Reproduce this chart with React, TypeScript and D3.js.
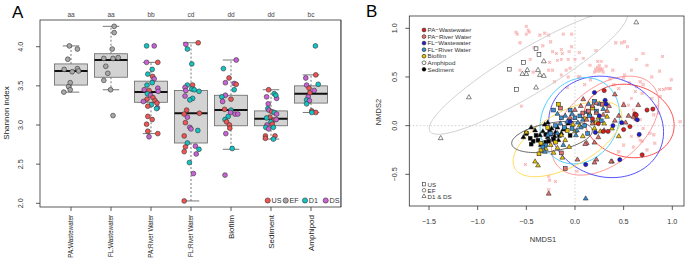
import React from 'react';
import * as d3 from 'd3';

const FONT = 'Liberation Sans, Arial, Helvetica, sans-serif';

// ---------- Panel A data ----------
const categories = ['PA:Wastewater', 'FL:Wastewater', 'PA:River Water', 'FL:River Water', 'Biofilm', 'Sediment', 'Amphipod'];
const smallLabel = [true, true, true, true, false, false, false];
const groupLetters = ['aa', 'aa', 'bb', 'cd', 'dd', 'dd', 'bc'];
const boxLow = [3.42, 3.45, 2.89, 2.03, 2.69, 2.82, 3.16];
const boxQ1 = [3.51, 3.61, 3.29, 2.77, 2.99, 2.99, 3.28];
const boxMed = [3.69, 3.83, 3.42, 3.15, 3.19, 3.08, 3.40];
const boxQ3 = [3.78, 3.91, 3.56, 3.44, 3.38, 3.18, 3.50];
const boxHigh = [4.01, 4.26, 3.80, 4.05, 3.83, 3.45, 3.64];
const yTicksA = [2.0, 2.5, 3.0, 3.5, 4.0];
const sites = ['US', 'EF', 'D1', 'DS'];
const siteColors: Record<string, string> = { US: '#f05454', EF: '#a8a8a8', D1: '#12c4c4', DS: '#c862d6' };

// [value, jitter (category units), site]
type P = [number, number, string];
const g1: P[] = [[4.01, -0.04, 'EF'], [3.97, 0.16, 'EF'], [3.84, -0.08, 'EF'], [3.71, -0.17, 'EF'], [3.68, 0.03, 'EF'], [3.72, 0.16, 'EF'], [3.69, 0.19, 'EF'], [3.54, -0.02, 'EF'], [3.49, -0.06, 'EF'], [3.45, -0.02, 'EF'], [3.42, -0.18, 'EF']];
const g2: P[] = [[4.26, 0.08, 'EF'], [4.18, 0.08, 'EF'], [3.97, 0.03, 'EF'], [3.86, 0.18, 'EF'], [3.85, 0.05, 'EF'], [3.85, -0.18, 'EF'], [3.75, -0.13, 'EF'], [3.66, -0.08, 'EF'], [3.57, -0.18, 'EF'], [3.45, -0.01, 'EF'], [3.12, 0.05, 'EF']];
const g3: P[] = [[4.01, -0.11, 'D1'], [4.01, 0.08, 'DS'], [3.80, -0.11, 'DS'], [3.80, 0.17, 'US'], [3.71, 0.03, 'D1'], [3.65, -0.08, 'D1'], [3.62, 0.04, 'US'], [3.59, 0.08, 'DS'], [3.54, 0.03, 'D1'], [3.51, -0.10, 'D1'], [3.47, 0.17, 'DS'], [3.45, -0.17, 'DS'], [3.44, -0.05, 'US'], [3.43, 0.18, 'DS'], [3.40, -0.09, 'D1'], [3.38, -0.01, 'DS'], [3.35, 0.05, 'US'], [3.33, -0.10, 'US'], [3.31, 0.10, 'US'], [3.30, -0.19, 'DS'], [3.28, 0.15, 'US'], [3.26, 0.01, 'D1'], [3.24, -0.08, 'US'], [3.22, 0.16, 'DS'], [3.21, 0.14, 'D1'], [3.11, -0.08, 'US'], [3.07, 0.03, 'US'], [3.01, -0.11, 'US'], [2.92, -0.08, 'US'], [2.89, 0.17, 'US'], [2.85, -0.05, 'DS']];
const g4: P[] = [[4.05, 0.18, 'US'], [4.03, -0.13, 'DS'], [3.97, -0.09, 'D1'], [3.78, 0.02, 'D1'], [3.51, -0.09, 'D1'], [3.51, 0.04, 'US'], [3.48, -0.15, 'DS'], [3.46, 0.02, 'D1'], [3.43, 0.20, 'D1'], [3.44, -0.13, 'DS'], [3.45, 0.08, 'D1'], [3.37, -0.15, 'DS'], [3.34, 0.04, 'D1'], [3.32, -0.03, 'D1'], [3.19, -0.11, 'US'], [3.15, 0.21, 'US'], [3.14, -0.17, 'US'], [3.10, -0.09, 'DS'], [3.03, -0.14, 'US'], [2.97, -0.03, 'DS'], [2.95, 0.0, 'DS'], [2.93, 0.17, 'D1'], [2.86, -0.17, 'US'], [2.77, -0.09, 'D1'], [2.72, -0.14, 'US'], [2.73, 0.11, 'DS'], [2.69, 0.20, 'D1'], [2.66, -0.17, 'US'], [2.63, 0.13, 'DS'], [2.52, -0.04, 'D1'], [2.38, 0.06, 'DS'], [2.03, -0.17, 'US']];
const g5: P[] = [[3.83, 0.13, 'DS'], [3.72, -0.19, 'D1'], [3.60, -0.05, 'US'], [3.54, -0.14, 'DS'], [3.53, 0.08, 'DS'], [3.52, 0.13, 'US'], [3.45, 0.08, 'D1'], [3.38, -0.14, 'DS'], [3.36, -0.23, 'D1'], [3.33, 0.0, 'US'], [3.30, -0.21, 'DS'], [3.20, -0.16, 'US'], [3.19, 0.0, 'D1'], [3.16, -0.01, 'DS'], [3.14, 0.10, 'DS'], [3.14, 0.17, 'DS'], [3.11, -0.07, 'D1'], [3.07, -0.15, 'D1'], [3.04, -0.11, 'US'], [3.00, -0.04, 'US'], [2.96, -0.03, 'US'], [2.89, -0.13, 'DS'], [2.70, 0.03, 'D1'], [2.36, -0.15, 'DS']];
const g6: P[] = [[3.45, -0.06, 'US'], [3.40, 0.08, 'D1'], [3.36, -0.11, 'DS'], [3.34, 0.14, 'DS'], [3.38, 0.12, 'D1'], [3.27, -0.07, 'DS'], [3.21, -0.08, 'D1'], [3.19, -0.05, 'DS'], [3.17, 0.02, 'US'], [3.16, 0.08, 'D1'], [3.14, 0.14, 'DS'], [3.10, -0.03, 'US'], [3.09, -0.11, 'D1'], [3.06, 0.06, 'US'], [3.07, 0.13, 'DS'], [3.04, 0.0, 'D1'], [3.01, 0.03, 'US'], [3.00, -0.10, 'DS'], [2.97, 0.06, 'D1'], [2.97, -0.13, 'D1'], [2.95, -0.06, 'DS'], [2.86, -0.14, 'US'], [2.86, 0.10, 'US'], [2.83, -0.14, 'US'], [2.82, 0.06, 'D1']];
const g7: P[] = [[4.01, 0.11, 'D1'], [3.64, 0.12, 'US'], [3.60, -0.13, 'DS'], [3.52, 0.18, 'D1'], [3.51, -0.11, 'DS'], [3.47, -0.05, 'US'], [3.44, 0.08, 'DS'], [3.41, -0.03, 'US'], [3.36, -0.07, 'DS'], [3.32, -0.11, 'D1'], [3.31, -0.04, 'DS'], [3.27, -0.11, 'D1'], [3.18, 0.02, 'US'], [3.16, 0.12, 'US'], [3.16, 0.02, 'D1']];
const groupPoints = [g1, g2, g3, g4, g5, g6, g7];

// ---------- Panel B data ----------
const nmdsGroups = ['PA\u2212Wastewater', 'PA\u2212River Water', 'FL\u2212Wastewater', 'FL\u2212River Water', 'Biofilm', 'Amphipod', 'Sediment'];
const nmdsFill = ['#e01c1c', '#e6716d', '#1c1cd6', '#3a8ed4', '#e6c200', '#ffffff', '#000000'];
const ellipseColor = ['#ff3a3a', '#ff8c8c', '#4040ff', '#40c8ff', '#ffd84a', '#cccccc', '#555555'];
// ellipse: [cx, cy, a, b, angle deg]
const ellipses: [number, number, number, number, number][] = [
  [0.555, 0.048, 0.47, 0.37, -15],
  [0.31, 0.0, 0.64, 0.39, 40],
  [0.32, -0.013, 0.60, 0.51, -20],
  [0.05, 0.05, 0.46, 0.39, 60],
  [-0.077, -0.137, 0.62, 0.28, 29],
  [-0.48, 0.55, 1.18, 0.23, 31],
  [-0.236, -0.117, 0.42, 0.145, 10],
];
const xTicksB = [-1.5, -1.0, -0.5, 0.0, 0.5, 1.0];
const yTicksB = [-0.5, 0.0, 0.5, 1.0];
const shapeKeys = ['US', 'EF', 'D1 & DS'];

// small pink crosses
const pinkX: [number, number][] = [
  [-0.606, 0.96], [-0.593, 0.94], [-0.50, 1.02], [-0.48, 0.98], [-0.50, 0.94], [-0.47, 0.96], [-0.565, 0.85], [-0.36, 0.93], [-0.31, 0.95], [-0.27, 0.93], [-0.25, 0.86], [-0.12, 0.94], [-0.034, 0.94], [-0.42, 0.80], [-0.33, 0.82], [-0.23, 0.76], [-0.19, 0.74], [-0.14, 0.78], [-0.13, 0.74], [-0.06, 0.76], [-0.034, 0.81], [0.0, 0.68], [0.044, 0.75], [-0.07, 0.68], [-0.14, 0.68], [-0.18, 0.67], [-0.26, 0.65], [-0.46, 0.68], [-0.565, 0.57], [-0.43, 0.55], [-0.27, 0.57], [-0.23, 0.57], [-0.09, 0.57], [-0.05, 0.59], [0.086, 0.69], [0.216, 0.77], [0.233, 0.66], [0.27, 0.66],
  [0.21, 0.58], [0.22, 0.56], [0.24, 0.58], [0.25, 0.56], [0.26, 0.59], [0.27, 0.57], [0.23, 0.60], [0.28, 0.58], [0.25, 0.62], [0.20, 0.55], [0.29, 0.55],
  [0.32, 0.61], [0.39, 0.57], [0.42, 0.85], [0.48, 0.85], [0.58, 0.57], [0.51, 0.52], [0.79, 0.50], [0.90, 0.71], [-0.14, 0.52], [-0.07, 0.50], [0.034, 0.50], [0.154, 0.62],
  [0.51, 0.86], [0.54, 0.81], [0.70, 0.74], [0.63, 0.68], [0.74, 0.62], [0.87, 0.56], [0.99, 0.47], [0.91, 0.37], [0.98, 0.38], [0.05, 0.50], [-0.08, 0.39], [-0.21, 0.45], [-0.55, 0.20],
  [0.67, 0.45], [0.70, 0.42], [0.62, 0.35], [0.69, 0.33], [0.87, 0.37], [0.94, 0.38], [0.58, 0.28], [0.79, 0.28], [0.50, 0.23], [0.55, 0.21], [0.60, 0.16], [0.63, 0.11], [0.81, 0.11], [0.86, 0.13], [0.60, 0.075], [0.67, 0.06], [1.08, 0.04], [0.70, -0.03], [0.81, -0.095], [0.65, -0.11], [0.67, -0.15], [0.69, -0.16], [0.60, -0.22], [0.50, -0.20], [0.45, -0.27], [0.77, -0.08], [0.82, -0.18],
  [-0.51, -0.40], [-0.27, -0.52], [-0.20, -0.575], [0.02, -0.47], [0.58, -0.11], [0.50, 0.49], [0.56, 0.44], [0.63, 0.40], [0.875, 0.30], [0.97, 0.38], [0.84, 0.20], [0.74, -0.25], [-0.26, -0.56], [-0.27, -0.66],
  [0.10, 0.42], [0.16, 0.47], [0.36, 0.48], [0.40, 0.42], [0.45, 0.38],
];

// [x, y, shape] shape: s = square (US), c = circle (EF), t = triangle (D1 & DS)
type Q = [number, number, string];
const amphipodPts: Q[] = [[-0.40, 0.79, 's'], [-0.37, 0.73, 's'], [-0.53, 0.65, 's'], [-0.675, 0.58, 's'], [-0.60, 0.37, 's'], [-0.32, 0.66, 't'], [-0.49, 0.57, 't'], [-0.38, 0.57, 't'], [-0.54, 0.53, 't'], [-0.50, 0.53, 't'], [-0.36, 0.52, 't'], [-0.32, 0.51, 't'], [-0.40, 0.39, 't'], [-1.09, 0.29, 't'], [-1.38, -0.13, 't'], [0.63, 1.06, 't']];
const sedimentPts: Q[] = [[-0.45, -0.02, 't'], [-0.31, 0.01, 't'], [-0.36, -0.10, 't'], [-0.46, -0.13, 's'], [-0.43, -0.16, 's'], [-0.45, -0.19, 's'], [-0.40, -0.10, 's'], [-0.38, -0.15, 's'], [-0.33, -0.06, 't'], [-0.30, -0.09, 's'], [-0.28, -0.12, 't'], [-0.26, -0.05, 's'], [-0.24, -0.03, 't'], [-0.22, -0.14, 's'], [-0.20, -0.07, 't'], [-0.18, -0.02, 't'], [-0.16, -0.10, 's'], [-0.14, -0.08, 't'], [-0.12, -0.04, 't'], [-0.09, -0.04, 't'], [-0.05, -0.10, 's'], [-0.07, 0.02, 't'], [-0.35, -0.20, 't'], [-0.30, -0.17, 's'], [-0.25, -0.09, 't'], [-0.21, -0.11, 't'], [-0.50, -0.08, 's'], [-0.41, -0.05, 't'], [-0.27, -0.16, 's'], [-0.17, -0.15, 't'], [-0.28, 0.03, 't'], [-0.53, -0.12, 't']];
const flRiverPts: Q[] = [[-0.22, 0.16, 's'], [-0.18, 0.12, 't'], [-0.14, 0.08, 's'], [-0.10, 0.10, 't'], [-0.06, 0.05, 's'], [-0.03, 0.12, 't'], [0.0, 0.08, 's'], [0.03, 0.03, 't'], [0.05, 0.10, 's'], [0.08, 0.06, 't'], [0.10, 0.00, 's'], [0.12, 0.14, 't'], [0.15, 0.10, 's'], [0.18, 0.05, 't'], [-0.20, 0.00, 's'], [-0.15, 0.02, 't'], [-0.11, -0.02, 's'], [-0.08, 0.04, 't'], [-0.03, -0.03, 's'], [0.02, -0.05, 't'], [-0.25, -0.08, 's'], [-0.28, -0.10, 't'], [-0.30, -0.20, 's'], [-0.18, -0.08, 't'], [0.22, 0.15, 's'], [0.25, 0.22, 't'], [0.20, 0.25, 's'], [0.14, 0.22, 't'], [-0.05, 0.16, 's'], [0.06, -0.02, 't'], [0.13, -0.08, 's'], [0.01, -0.10, 't'], [-0.33, -0.22, 's'], [-0.31, -0.27, 't'], [0.11, -0.75, 't'], [-0.12, -0.20, 't'], [0.27, 0.05, 's'], [0.29, 0.17, 't']];
const biofilmPts: Q[] = [[-0.17, 0.22, 's'], [-0.50, -0.07, 't'], [-0.35, -0.18, 's'], [-0.30, -0.24, 't'], [-0.37, -0.29, 's'], [-0.41, -0.37, 't'], [-0.38, -0.41, 't'], [-0.25, -0.20, 't'], [-0.20, -0.17, 's'], [-0.14, -0.10, 't'], [-0.10, -0.15, 't'], [-0.06, -0.22, 't'], [-0.13, -0.33, 't'], [-0.08, -0.05, 's'], [0.0, -0.06, 't'], [0.05, 0.0, 't'], [0.10, 0.07, 's'], [0.15, 0.12, 't'], [0.20, -0.03, 't'], [0.22, 0.03, 's'], [0.24, 0.08, 't'], [0.30, 0.02, 't'], [0.45, -0.11, 't'], [0.38, -0.03, 't'], [-0.22, -0.28, 't'], [-0.28, -0.02, 's'], [-0.02, 0.01, 't'], [0.08, -0.11, 't'], [-0.18, -0.23, 't'], [0.18, 0.18, 's'], [0.26, -0.06, 't'], [-0.35, -0.25, 's'], [0.33, 0.09, 't']];
const paRiverPts: Q[] = [[0.085, 0.27, 't'], [0.41, 0.32, 't'], [0.22, 0.23, 't'], [-0.15, 0.18, 's'], [0.50, 0.21, 't'], [0.65, 0.21, 't'], [0.08, 0.13, 's'], [0.22, 0.13, 't'], [0.29, 0.11, 't'], [0.60, 0.09, 't'], [0.12, 0.06, 't'], [0.24, -0.12, 't'], [0.12, -0.18, 't'], [0.025, -0.35, 't'], [0.22, -0.35, 't'], [0.38, -0.37, 't'], [-0.10, -0.44, 's'], [-0.27, -0.70, 't'], [0.105, -0.19, 't'], [0.20, -0.175, 't'], [-0.14, -0.28, 's'], [0.20, -0.38, 't'], [0.37, -0.37, 't'], [0.45, 0.10, 't'], [0.35, 0.20, 't'], [0.18, 0.20, 't'], [0.00, 0.16, 't'], [0.28, 0.22, 's'], [0.33, 0.15, 't'], [0.55, 0.10, 't'], [0.63, 0.07, 't'], [0.18, 0.02, 't'], [0.14, 0.15, 's'], [0.06, 0.20, 't'], [-0.05, 0.08, 't'], [0.30, -0.05, 't'], [0.41, 0.05, 't'], [0.52, 0.03, 't']];
const paWastePts: Q[] = [[0.30, 0.36, 'c'], [0.18, 0.07, 'c'], [0.29, -0.06, 'c'], [0.34, -0.06, 'c'], [0.50, -0.04, 'c'], [0.565, -0.01, 'c'], [0.74, 0.16, 'c'], [0.80, 0.17, 'c'], [0.69, -0.30, 'c'], [0.24, 0.02, 'c'], [0.615, 0.12, 'c'], [0.63, 0.11, 'c']];
const flWastePts: Q[] = [[0.20, 0.34, 'c'], [0.31, 0.26, 'c'], [0.32, 0.22, 'c'], [0.25, 0.10, 'c'], [-0.05, 0.04, 'c'], [0.39, 0.0, 'c'], [0.48, 0.03, 'c'], [0.21, -0.07, 'c'], [0.64, 0.06, 'c'], [0.66, -0.09, 'c'], [0.46, -0.35, 'c'], [0.11, -0.40, 'c']];
// draw order with group index into nmdsGroups
const nmdsLayers: [number, Q[]][] = [[5, amphipodPts], [6, sedimentPts], [4, biofilmPts], [3, flRiverPts], [1, paRiverPts], [2, flWastePts], [0, paWastePts]];

function Marker({ x, y, shape, fill, size = 1 }: { x: number; y: number; shape: string; fill: string; size?: number }) {
  const st = { fill, stroke: '#222', strokeWidth: 0.55 };
  if (shape === 's') {
    const h = 1.9 * size;
    return <rect x={x - h} y={y - h} width={2 * h} height={2 * h} {...st} />;
  }
  if (shape === 't') {
    const r = 2.8 * size;
    const p = `M${x},${y - r}L${x + r * 0.866},${y + r * 0.5}L${x - r * 0.866},${y + r * 0.5}Z`;
    return <path d={p} {...st} />;
  }
  return <circle cx={x} cy={y} r={2.1 * size} {...st} />;
}

export default function App() {
  const xA = d3.scaleLinear().domain([0.225, 7.75]).range([40, 341]);
  const yA = d3.scaleLinear().domain([2, 4]).range([203.3, 46.7]);
  const xB = d3.scaleLinear().domain([-1.5, 1]).range([429, 672.3]);
  const yB = d3.scaleLinear().domain([-0.5, 1]).range([174.3, 28.3]);
  const boxW = 33;
  const capW = 16.5;
  const A = { l: 40, r: 341, t: 20, b: 207 };
  const B = { l: 409.3, r: 684, t: 16, b: 206 };

  const ellipsePath = (e: [number, number, number, number, number]) => {
    const [cx, cy, a, b, ang] = e;
    const phi = (ang * Math.PI) / 180;
    const ts = d3.range(0, 120).map((i) => (i / 120) * 2 * Math.PI);
    const line = d3.line<number>()
      .x((t) => xB(cx + a * Math.cos(t) * Math.cos(phi) - b * Math.sin(t) * Math.sin(phi)))
      .y((t) => yB(cy + a * Math.cos(t) * Math.sin(phi) + b * Math.sin(t) * Math.cos(phi)))
      .curve(d3.curveLinearClosed);
    return line(ts) || '';
  };

  return (
    <svg width={685} height={259} style={{ position: 'absolute', left: 0, top: 0, background: '#fff', fontFamily: FONT }}>
      <rect x={0} y={0} width={685} height={259} fill="#fff" />
      {/* ---------------- Panel A ---------------- */}
      <text x={12} y={18} fontSize={17} fill="#000">A</text>
      <rect x={A.l} y={A.t} width={A.r - A.l} height={A.b - A.t} fill="none" stroke="#333" strokeWidth={0.8} />
      {yTicksA.map((v) => (
        <g key={'ya' + v}>
          <line x1={A.l} x2={A.l - 4} y1={yA(v)} y2={yA(v)} stroke="#333" strokeWidth={0.8} />
          <text transform={`translate(${A.l - 17},${yA(v)}) rotate(-90)`} textAnchor="middle" fontSize={7.2} fill="#333">{v.toFixed(1)}</text>
        </g>
      ))}
      <text transform={`translate(9,113) rotate(-90)`} textAnchor="middle" fontSize={8} fill="#222">Shannon index</text>
      {categories.map((c, i) => (
        <g key={'xa' + i}>
          <line x1={xA(i + 1)} x2={xA(i + 1)} y1={A.b} y2={A.b + 4} stroke="#333" strokeWidth={0.8} />
          <text transform={`translate(${xA(i + 1) + (smallLabel[i] ? 2.2 : 2.8)},${A.b + 8}) rotate(-90)`} textAnchor="end" fontSize={smallLabel[i] ? 6.3 : 8} fill="#222">{c}</text>
          <text x={xA(i + 1)} y={17} textAnchor="middle" fontSize={6.5} fill="#444444">{groupLetters[i]}</text>
        </g>
      ))}
      {categories.map((c, i) => {
        const x = xA(i + 1);
        return (
          <g key={'box' + i}>
            <line x1={x} x2={x} y1={yA(boxQ3[i])} y2={yA(boxHigh[i])} stroke="#555" strokeWidth={0.8} strokeDasharray="2,2" />
            <line x1={x} x2={x} y1={yA(boxQ1[i])} y2={yA(boxLow[i])} stroke="#555" strokeWidth={0.8} strokeDasharray="2,2" />
            <line x1={x - capW / 2} x2={x + capW / 2} y1={yA(boxHigh[i])} y2={yA(boxHigh[i])} stroke="#555" strokeWidth={0.8} />
            <line x1={x - capW / 2} x2={x + capW / 2} y1={yA(boxLow[i])} y2={yA(boxLow[i])} stroke="#555" strokeWidth={0.8} />
            <rect x={x - boxW / 2} y={yA(boxQ3[i])} width={boxW} height={yA(boxQ1[i]) - yA(boxQ3[i])} fill="#d3d3d3" stroke="#666" strokeWidth={0.8} />
            <line x1={x - boxW / 2} x2={x + boxW / 2} y1={yA(boxMed[i])} y2={yA(boxMed[i])} stroke="#111" strokeWidth={2} />
          </g>
        );
      })}
      {groupPoints.map((pts, i) =>
        pts.map((p, j) => (
          <circle key={`pt${i}-${j}`} cx={xA(i + 1 + p[1])} cy={yA(p[0])} r={2.4} fill={siteColors[p[2]]} stroke="#333" strokeWidth={0.6} />
        ))
      )}
      {/* legend A */}
      {sites.map((s, i) => {
        const x0 = 267.7 + [0, 18, 37.3, 58][i];
        return (
          <g key={'lg' + s}>
            <circle cx={x0} cy={200.5} r={2.6} fill={siteColors[s]} stroke="#333" strokeWidth={0.6} />
            <text x={x0 + 3.8} y={203} fontSize={7.2} fill="#333">{s}</text>
          </g>
        );
      })}

      {/* ---------------- Panel B ---------------- */}
      <rect x={341.5} y={0} width={344} height={259} fill="#fff" />
      <line x1={341} x2={341} y1={A.t} y2={A.b} stroke="#333" strokeWidth={0.8} />
      <text x={366} y={17} fontSize={17} fill="#000">B</text>
      <defs>
        <clipPath id="clipB">
          <rect x={B.l} y={B.t} width={B.r - B.l} height={B.b - B.t} />
        </clipPath>
      </defs>
      <g clipPath="url(#clipB)">
        <line x1={xB(0)} x2={xB(0)} y1={B.t} y2={B.b} stroke="#c8c8c8" strokeWidth={0.8} strokeDasharray="1.5,2" />
        <line x1={B.l} x2={B.r} y1={yB(0)} y2={yB(0)} stroke="#c8c8c8" strokeWidth={0.8} strokeDasharray="1.5,2" />
        {pinkX.map((p, i) => {
          const x = xB(p[0]);
          const y = yB(p[1]);
          return (
            <g key={'px' + i}>
              <rect x={x - 1.2} y={y - 1.2} width={2.4} height={2.4} fill="none" stroke="#fab0b0" strokeWidth={0.5} />
              <path d={`M${x - 1.1},${y - 1.1}L${x + 1.1},${y + 1.1}M${x - 1.1},${y + 1.1}L${x + 1.1},${y - 1.1}`} stroke="#f49a9a" strokeWidth={0.6} />
            </g>
          );
        })}
        {ellipses.map((e, i) => (
          <path key={'el' + i} d={ellipsePath(e)} fill="none" stroke={ellipseColor[i]} strokeWidth={0.9} />
        ))}
        {nmdsLayers.map(([gi, pts]) =>
          pts.map((p, j) => <Marker key={`m${gi}-${j}`} x={xB(p[0])} y={yB(p[1])} shape={p[2]} fill={nmdsFill[gi]} />)
        )}
      </g>
      <rect x={B.l} y={B.t} width={B.r - B.l} height={B.b - B.t} fill="none" stroke="#333" strokeWidth={0.8} />
      {xTicksB.map((v) => (
        <g key={'xb' + v}>
          <line x1={xB(v)} x2={xB(v)} y1={B.b} y2={B.b + 4} stroke="#333" strokeWidth={0.8} />
          <text x={xB(v)} y={224} textAnchor="middle" fontSize={7.2} fill="#333">{v < 0 ? '\u2212' + Math.abs(v).toFixed(1) : v.toFixed(1)}</text>
        </g>
      ))}
      {yTicksB.map((v) => (
        <g key={'yb' + v}>
          <line x1={B.l} x2={B.l - 4} y1={yB(v)} y2={yB(v)} stroke="#333" strokeWidth={0.8} />
          <text transform={`translate(${B.l - 12},${yB(v)}) rotate(-90)`} textAnchor="middle" fontSize={7.2} fill="#333">{v < 0 ? '\u2212' + Math.abs(v).toFixed(1) : v.toFixed(1)}</text>
        </g>
      ))}
      <text x={543} y={242} textAnchor="middle" fontSize={7.5} fill="#333">NMDS1</text>
      <text transform={`translate(380.5,112) rotate(-90)`} textAnchor="middle" fontSize={7.5} fill="#333">NMDS2</text>
      {/* legend B */}
      {nmdsGroups.map((g, i) => (
        <g key={'lb' + i}>
          <circle cx={424} cy={30 + i * 6.55} r={1.9} fill={nmdsFill[i]} stroke="#222" strokeWidth={0.6} />
          <text x={427.5} y={32.2 + i * 6.55} fontSize={6.2} fill="#333">{g}</text>
        </g>
      ))}
      {shapeKeys.map((s, i) => {
        const y = 184.3 + i * 6;
        const shape = ['s', 'c', 't'][i];
        return (
          <g key={'ls' + i}>
            <Marker x={424} y={y} shape={shape} fill="none" size={0.85} />
            <text x={427.5} y={y + 2.2} fontSize={6.2} fill="#333">{s}</text>
          </g>
        );
      })}
    </svg>
  );
}
